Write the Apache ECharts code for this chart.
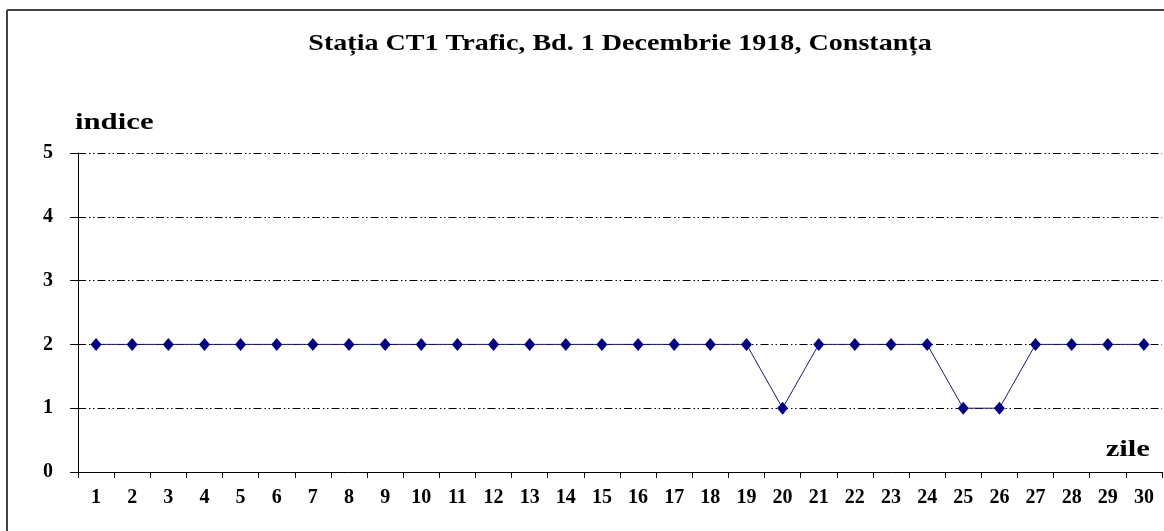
<!DOCTYPE html>
<html>
<head>
<meta charset="utf-8">
<title>Stația CT1 Trafic</title>
<script src="https://cdn.jsdelivr.net/npm/echarts@6/dist/echarts.min.js"></script>
<style>
  html, body { margin: 0; padding: 0; background: #fff; }
  #chart { width: 1164px; height: 531px; }
</style>
</head>
<body>
<div id="chart"></div>
<script>
const zile = ['1','2','3','4','5','6','7','8','9','10','11','12','13','14','15','16','17','18','19','20','21','22','23','24','25','26','27','28','29','30']
const indice = [2,2,2,2,2,2,2,2,2,2,2,2,2,2,2,2,2,2,2,1,2,2,2,2,1,1,2,2,2,2]

const serif = '"Liberation Serif", "DejaVu Serif", serif'
const chart = echarts.init(document.getElementById('chart'))

chart.setOption({
  animation: false,
  grid: { left: 78, right: 2, top: 153, bottom: 59 },
  xAxis: {
    type: 'category',
    data: zile,
    boundaryGap: true,
    axisLine: { lineStyle: { color: '#000', width: 1 } },
    axisTick: { show: true, length: 6, inside: false, interval: 0, lineStyle: { color: '#000' } },
    axisLabel: { interval: 0, margin: 16, fontFamily: serif, fontWeight: 'bold', fontSize: 20, color: '#000' },
    splitLine: { show: false },
  },
  yAxis: {
    type: 'value',
    min: 0,
    max: 5,
    interval: 1,
    axisLine: { show: true, lineStyle: { color: '#000', width: 1 } },
    axisTick: { show: true, length: 8, lineStyle: { color: '#000' } },
    axisLabel: { margin: 25, fontFamily: serif, fontWeight: 'bold', fontSize: 20, color: '#000' },
    splitLine: {
      show: true,
      lineStyle: { color: '#000', width: 1, type: [8, 3, 1.5, 2.5, 1.5, 3] },
    },
  },
  graphic: [
    { type: 'line', shape: { x1: 7, y1: 10, x2: 1164, y2: 10 }, style: { stroke: '#444', lineWidth: 2 } },
    { type: 'line', shape: { x1: 7, y1: 10, x2: 7, y2: 531 }, style: { stroke: '#444', lineWidth: 2 } },
    {
      type: 'text', x: 620, y: 32, scaleX: 1.17,
      style: {
        text: 'Stația CT1 Trafic, Bd. 1 Decembrie 1918, Constanța',
        font: 'bold 24px ' + serif, fill: '#000', align: 'center', verticalAlign: 'top',
      },
    },
    {
      type: 'text', x: 75, y: 111, scaleX: 1.28,
      style: { text: 'indice', font: 'bold 24px ' + serif, fill: '#000', align: 'left', verticalAlign: 'top' },
    },
    {
      type: 'text', x: 1150, y: 438, scaleX: 1.28,
      style: { text: 'zile', font: 'bold 24px ' + serif, fill: '#000', align: 'right', verticalAlign: 'top' },
    },
  ],
  series: [
    {
      type: 'line',
      data: indice,
      symbol: 'diamond',
      symbolSize: [11, 13],
      lineStyle: { color: '#1a1a6e', width: 1 },
      itemStyle: { color: '#000080' },
    },
  ],
})
</script>
</body>
</html>
